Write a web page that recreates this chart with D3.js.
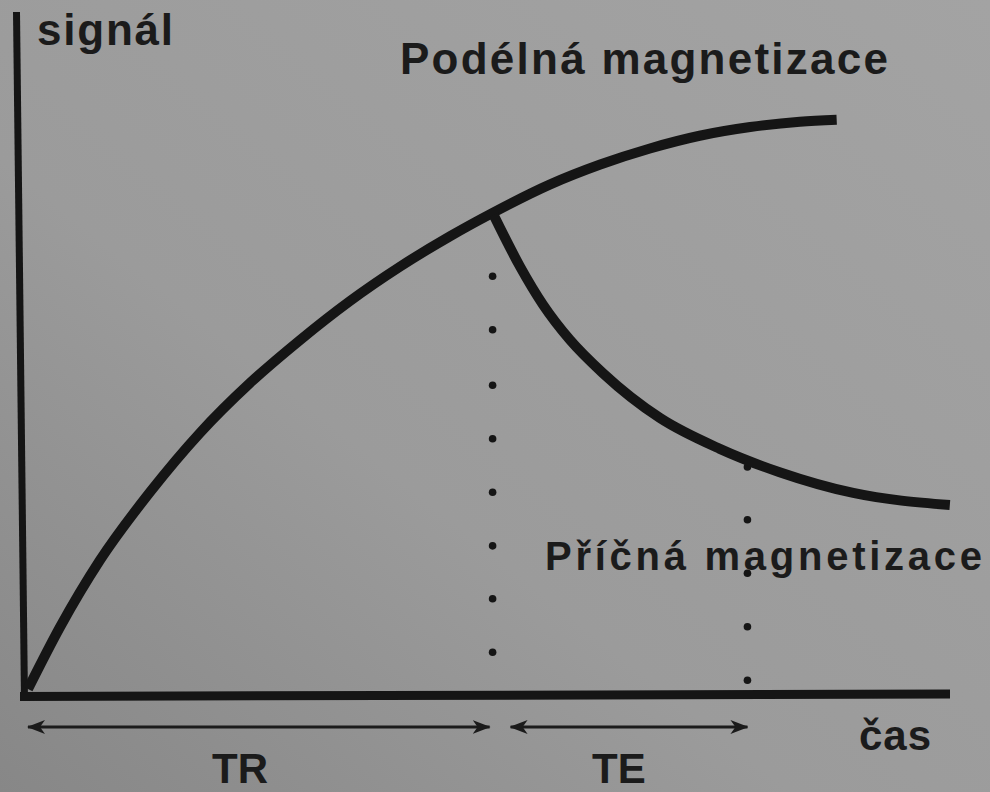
<!DOCTYPE html>
<html>
<head>
<meta charset="utf-8">
<script src="https://cdn.jsdelivr.net/npm/d3@7"></script>
<style>
  html, body { margin: 0; padding: 0; background: #989898; }
  svg { display: block; }
  text { font-family: "Liberation Sans", Arial, sans-serif; font-weight: bold; fill: #1b1b1b; }
</style>
</head>
<body>
<svg id="chart" width="990" height="792"></svg>
<script>
// Longitudinal magnetisation recovering over time (time, signal)
const longTime   = [0, 3.5, 7.8, 13.3, 18.7, 24.1, 29.6, 35.0, 40.4, 45.9, 50.4, 56.7, 62.2, 67.6, 73.0, 78.5, 83.9, 87.9];
const longSignal = [0, 9.3, 19.2, 29.5, 38.3, 45.7, 52.2, 58.0, 63.1, 67.7, 71.1, 75.4, 78.4, 80.8, 82.7, 84.0, 84.8, 85.1];

// Transverse magnetisation decaying after the pulse at TR
const transTime   = [50.6, 53.5, 56.0, 58.9, 62.5, 68.7, 75.2, 81.7, 89.7, 100.2];
const transSignal = [70.9, 63.1, 57.4, 52.2, 47.2, 40.5, 35.9, 32.4, 29.3, 27.5];

// Timing intervals
const TR = 50.5;
const TE = 27.7;

// Heights of the dots on the two dotted guide lines
const trDots = [61.7, 53.7, 45.4, 37.4, 29.4, 21.4, 13.5, 5.5];
const teDots = [33.2, 25.3, 17.3, 9.3, 1.3];

// Text
const yTitle = "signál";
const xTitle = "čas";
const longLabel = "Podélná magnetizace";
const transLabel = "Příčná magnetizace";
const intervalLabels = ["TR", "TE"];

const svg = d3.select("#chart");
const W = 990, H = 792;

// background paper tone
const defs = svg.append("defs");
const grad = defs.append("linearGradient").attr("id", "paper")
  .attr("x1", "1").attr("y1", "0").attr("x2", "0").attr("y2", "1");
grad.append("stop").attr("offset", "0").attr("stop-color", "#a3a3a3");
grad.append("stop").attr("offset", "0.6").attr("stop-color", "#9b9b9b");
grad.append("stop").attr("offset", "1").attr("stop-color", "#878787");
svg.append("rect").attr("width", W).attr("height", H).attr("fill", "url(#paper)");

// arrow head
defs.append("marker").attr("id", "head")
  .attr("markerUnits", "userSpaceOnUse")
  .attr("viewBox", "0 0 18 14").attr("refX", 17).attr("refY", 7)
  .attr("markerWidth", 18).attr("markerHeight", 14)
  .attr("orient", "auto-start-reverse")
  .append("path").attr("d", "M0,0 L18,7 L0,14 L5,7 Z").attr("fill", "#1b1b1b");

const x = d3.scaleLinear().domain([0, 100]).range([28, 948]);
const y = d3.scaleLinear().domain([0, 100]).range([689, 20]);

const ink = "#151515";

// axes frame
const x0 = x(0), y0 = y(0);
svg.append("line")
  .attr("x1", x0 - 11.5).attr("y1", 12).attr("x2", x0 - 3.5).attr("y2", y0 + 11)
  .attr("stroke", ink).attr("stroke-width", 7);
svg.append("line")
  .attr("x1", x0 - 8).attr("y1", y0 + 7.5).attr("x2", 950).attr("y2", y0 + 5)
  .attr("stroke", ink).attr("stroke-width", 9);

// dotted guides at TR and TR+TE
svg.append("g").selectAll("circle").data(trDots).join("circle")
  .attr("cx", x(TR)).attr("cy", d => y(d)).attr("r", 3.8).attr("fill", ink);
svg.append("g").selectAll("circle").data(teDots).join("circle")
  .attr("cx", x(TR + TE)).attr("cy", d => y(d)).attr("r", 3.8).attr("fill", ink);

// curves
const line = d3.line().x(d => x(d[0])).y(d => y(d[1])).curve(d3.curveMonotoneX);
svg.append("path")
  .attr("d", line(d3.zip(longTime, longSignal)))
  .attr("fill", "none").attr("stroke", ink).attr("stroke-width", 10);
svg.append("path")
  .attr("d", line(d3.zip(transTime, transSignal)))
  .attr("fill", "none").attr("stroke", ink).attr("stroke-width", 10);

// interval arrows
const arrowY = 727;
const spans = [[x(0), x(TR) - 3], [x(TR) + 18, x(TR + TE)]];
svg.append("g").selectAll("line").data(spans).join("line")
  .attr("x1", d => d[0]).attr("x2", d => d[1])
  .attr("y1", arrowY).attr("y2", arrowY)
  .attr("stroke", "#1b1b1b").attr("stroke-width", 2.8)
  .attr("marker-start", "url(#head)").attr("marker-end", "url(#head)");

// labels
const texts = [
  { t: yTitle,            x: 37,  y: 45,  size: 44, len: 136 },
  { t: longLabel,         x: 400, y: 74,  size: 44, len: 488 },
  { t: transLabel,        x: 545, y: 570, size: 40, len: 437 },
  { t: xTitle,            x: 859, y: 750, size: 42, len: 72 },
  { t: intervalLabels[0], x: 212, y: 783, size: 42, len: null },
  { t: intervalLabels[1], x: 592, y: 783, size: 42, len: null }
];
svg.append("g").selectAll("text").data(texts).join("text")
  .attr("x", d => d.x).attr("y", d => d.y)
  .attr("font-size", d => d.size)
  .attr("textLength", d => d.len)
  .attr("lengthAdjust", d => d.len ? "spacing" : null)
  .text(d => d.t);
</script>
</body>
</html>
